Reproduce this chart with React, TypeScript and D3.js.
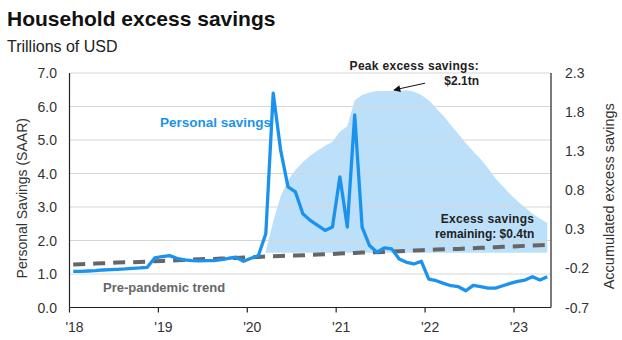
import React from "react";
import * as d3 from "d3";

// Monthly data, Jan 2018 (index 0) to May 2023 (index 64)
const personalSavings = [
  1.08, 1.08, 1.09, 1.1, 1.12, 1.13, 1.14, 1.15, 1.17, 1.18, 1.2, 1.48,
  1.52, 1.55, 1.47, 1.42, 1.4, 1.39, 1.4, 1.4, 1.43, 1.47, 1.5, 1.38,
  1.47, 1.55, 2.2, 6.4, 4.7, 3.6, 3.45, 2.8, 2.6, 2.45, 2.3, 2.4,
  3.9, 2.4, 5.75, 2.4, 1.85, 1.65, 1.78, 1.75, 1.45, 1.35, 1.3, 1.38,
  0.85, 0.8, 0.72, 0.65, 0.62, 0.5, 0.66, 0.62, 0.58, 0.58, 0.65, 0.72,
  0.78, 0.82, 0.92, 0.82, 0.92,
];

const prePandemicTrend = [
  1.28, 1.29, 1.3, 1.31, 1.32, 1.33, 1.34, 1.35, 1.35, 1.36, 1.37, 1.38,
  1.39, 1.4, 1.41, 1.42, 1.43, 1.44, 1.45, 1.45, 1.46, 1.47, 1.48, 1.49,
  1.5, 1.51, 1.52, 1.53, 1.54, 1.55, 1.55, 1.56, 1.57, 1.58, 1.59, 1.6,
  1.61, 1.62, 1.63, 1.64, 1.65, 1.65, 1.66, 1.67, 1.68, 1.69, 1.7, 1.71,
  1.72, 1.73, 1.74, 1.75, 1.75, 1.76, 1.77, 1.78, 1.79, 1.8, 1.81, 1.82,
  1.83, 1.84, 1.85, 1.86, 1.87,
];

// Accumulated excess savings, starting Mar 2020 (index 26)
const excessStartIndex = 26;
const accumulatedExcess = [
  0.02, 0.4, 0.72, 0.93, 1.06, 1.16, 1.24, 1.31, 1.37, 1.42,
  1.55, 1.62, 1.95, 2.02, 2.05, 2.07, 2.07, 2.07, 2.07, 2.08, 2.06, 2.02,
  1.95, 1.85, 1.75, 1.63, 1.52, 1.4, 1.3, 1.2, 1.08, 0.95, 0.85, 0.75,
  0.66, 0.58, 0.5, 0.44, 0.38,
];

const yearTickMonths = [0, 12, 24, 36, 48, 60];
const yearTickLabels = ["'18", "'19", "'20", "'21", "'22", "'23"];
const leftTicks = [0, 1, 2, 3, 4, 5, 6, 7];
const rightTicks = [-0.7, -0.2, 0.3, 0.8, 1.3, 1.8, 2.3];

const FONT = "'Liberation Sans', Arial, sans-serif";
const BLUE = "#1b93ee";
const AREA = "#bde0fa";
const GRAY = "#666666";

export default function App() {
  const left = 69.5;
  const right = 551;
  const top = 73;
  const bottom = 307.5;

  const x = d3.scaleLinear().domain([-0.5, 64.5]).range([left, right]);
  const yL = d3.scaleLinear().domain([0, 7]).range([bottom, top]);
  const yR = d3.scaleLinear().domain([-0.7, 2.3]).range([bottom, top]);

  const area = d3
    .area<number>()
    .x((_, i) => x(i + excessStartIndex))
    .y0(yR(0))
    .y1((d) => yR(d));

  const line = d3
    .line<number>()
    .x((_, i) => x(i))
    .y((d) => yL(d));

  const lastIdx = excessStartIndex + accumulatedExcess.length - 1;
  const arrowTip = [x(43.3), yR(2.07) - 1];
  const arrowTail = [x(47.5), yR(2.17)];

  return (
    <svg
      width={622}
      height={340}
      style={{ position: "absolute", left: 0, top: 0, background: "#fff" }}
      fontFamily={FONT}
    >
      <defs>
        <marker
          id="arr"
          viewBox="0 0 10 10"
          refX="9"
          refY="5"
          markerWidth="9"
          markerHeight="7"
          orient="auto"
          markerUnits="userSpaceOnUse"
        >
          <path d="M0,0 L10,5 L0,10 z" fill="#111" />
        </marker>
      </defs>
      <rect width={622} height={340} fill="#fff" />

      {/* titles */}
      <text x={7} y={26} fontSize={21} fontWeight="bold" fill="#111">
        Household excess savings
      </text>
      <text x={7} y={52} fontSize={16} fill="#222">
        Trillions of USD
      </text>

      {/* area */}
      <path d={area(accumulatedExcess) || ""} fill={AREA} />

      {/* gridlines */}
      {leftTicks
        .filter((t) => t > 0)
        .map((t) => (
          <line
            key={t}
            x1={left}
            x2={right}
            y1={yL(t)}
            y2={yL(t)}
            stroke="#d6d6d6"
            strokeWidth={1}
          />
        ))}

      {/* trend */}
      <path
        d={line(prePandemicTrend) || ""}
        fill="none"
        stroke={GRAY}
        strokeWidth={4}
        strokeDasharray="12,8"
      />

      {/* personal savings */}
      <path
        d={line(personalSavings) || ""}
        fill="none"
        stroke={BLUE}
        strokeWidth={3.3}
        strokeLinejoin="round"
      />

      {/* axes */}
      <line x1={left} x2={left} y1={top} y2={bottom} stroke="#222" strokeWidth={1.2} />
      <line x1={right} x2={right} y1={top} y2={bottom} stroke="#222" strokeWidth={1.2} />
      <line x1={left} x2={right} y1={bottom} y2={bottom} stroke="#222" strokeWidth={1.2} />
      {yearTickMonths.map((m, i) => (
        <g key={m}>
          <line
            x1={x(m - 0.5)}
            x2={x(m - 0.5)}
            y1={bottom}
            y2={bottom + 5}
            stroke="#222"
            strokeWidth={1.2}
          />
          <text
            x={x(m - 0.5) + 5}
            y={332}
            fontSize={14}
            textAnchor="middle"
            fill="#333"
          >
            {yearTickLabels[i]}
          </text>
        </g>
      ))}
      {leftTicks.map((t) => (
        <text
          key={t}
          x={57}
          y={yL(t) + 5}
          fontSize={14}
          textAnchor="end"
          fill="#333"
        >
          {t.toFixed(1)}
        </text>
      ))}
      {rightTicks.map((t) => (
        <text key={t} x={565} y={yR(t) + 5} fontSize={14} fill="#333">
          {t.toFixed(1)}
        </text>
      ))}
      <text
        transform={`translate(27,${(top + bottom) / 2 + 8}) rotate(-90)`}
        fontSize={14}
        textAnchor="middle"
        fill="#333"
      >
        Personal Savings (SAAR)
      </text>
      <text
        transform={`translate(614,${(top + bottom) / 2 + 6}) rotate(-90)`}
        fontSize={14.5}
        textAnchor="middle"
        fill="#333"
      >
        Accumulated excess savings
      </text>

      {/* annotations */}
      <text x={160} y={127} fontSize={13.5} fontWeight="bold" fill={BLUE}>
        Personal savings
      </text>
      <text x={103} y={292} fontSize={13} fontWeight="bold" fill={GRAY}>
        Pre-pandemic trend
      </text>
      <text x={479} y={70} fontSize={12} fontWeight="bold" textAnchor="end" fill="#222" letterSpacing={0.3}>
        Peak excess savings:
      </text>
      <text x={479} y={85} fontSize={12} fontWeight="bold" textAnchor="end" fill="#222">
        $2.1tn
      </text>
      <line
        x1={arrowTail[0]}
        y1={arrowTail[1]}
        x2={arrowTip[0]}
        y2={arrowTip[1]}
        stroke="#111"
        strokeWidth={1}
        markerEnd="url(#arr)"
      />
      <text x={x(lastIdx) - 13} y={223} fontSize={12} fontWeight="bold" textAnchor="end" fill="#222" letterSpacing={0.3}>
        Excess savings
      </text>
      <text x={x(lastIdx) - 13} y={238} fontSize={12} fontWeight="bold" textAnchor="end" fill="#222">
        remaining: $0.4tn
      </text>
    </svg>
  );
}
